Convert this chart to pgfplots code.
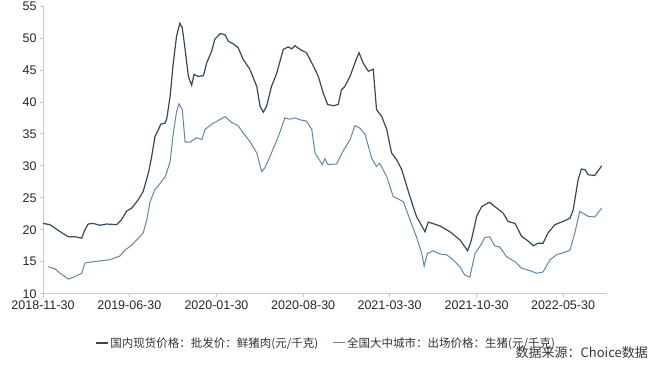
\documentclass[border=0pt]{standalone}
\usepackage{pgfplots}
\pgfplotsset{compat=1.18}
\usepackage{fontspec}
\setmainfont{Liberation Sans}
\newfontfamily\cjk{Noto Sans CJK SC}
\definecolor{topc}{HTML}{34495E}
\definecolor{botc}{HTML}{5E86AE}
\definecolor{axc}{HTML}{C8C8C8}
\begin{document}
\begin{tikzpicture}
\useasboundingbox (0,0) rectangle (650pt,368pt);
\begin{axis}[
  at={(43pt,74.3pt)}, anchor=south west,
  scale only axis, width=564pt, height=287.7pt,
  xmin=0, xmax=1385, ymin=10, ymax=55,
  axis x line=bottom, axis y line=left,
  axis line style={-, draw=axc, line width=0.8pt},
  tick align=outside, major tick length=3pt,
  tick style={draw=axc, line width=0.8pt},
  xtick={0,212,426,639,851,1065,1277},
  xticklabels={2018-11-30,2019-06-30,2020-01-30,2020-08-30,2021-03-30,2021-10-30,2022-05-30},
  ytick={10,15,...,55},
  /pgf/number format/assume math mode=true,
  tick label style={font=\fontsize{12.5}{14}\selectfont, text=black!85},
  xticklabel style={yshift=-1pt},
  legend columns=2,
  legend style={at={(0.502,-0.171)}, anchor=center, draw=none, fill=none,
    font=\cjk\fontsize{11.5}{13}\selectfont, text=black!80,
    /tikz/every even column/.append style={column sep=12pt}},
  legend image code/.code={\draw[#1] (0pt,0pt) -- (12pt,0pt);},
]
\addplot[topc, line width=1.2pt] coordinates {
(0,21.0)(17,20.8)(42,19.7)(62,18.9)(79,18.9)(95,18.7)(103,20.0)(111,20.9)(123,21.0)(140,20.7)(156,20.9)(181,20.8)(193,21.6)(205,22.9)(218,23.4)(234,24.7)(246,26.0)(259,28.9)(267,31.5)(275,34.6)(283,35.6)(289,36.5)(300,36.7)(304,37.4)(312,40.8)(320,46.1)(328,50.3)(336,52.3)(342,51.6)(349,48.2)(357,44.0)(365,42.6)(371,44.3)(381,44.0)(394,44.1)(402,46.1)(414,47.9)(422,49.8)(435,50.7)(447,50.5)(455,49.5)(467,49.1)(479,48.5)(492,46.6)(508,45.1)(525,42.4)(533,39.3)(541,38.4)(549,39.3)(561,42.4)(574,44.5)(590,48.2)(602,48.6)(611,48.3)(619,48.8)(631,48.2)(647,47.7)(664,45.6)(676,44.0)(688,41.4)(699,39.6)(713,39.4)(725,39.6)(733,41.9)(741,42.4)(754,44.0)(766,46.1)(776,47.7)(786,46.1)(799,44.8)(811,45.1)(819,38.8)(832,37.7)(844,35.7)(856,32.0)(868,31.0)(881,29.4)(901,25.2)(917,22.1)(938,19.7)(946,21.2)(966,20.8)(975,20.6)(999,19.7)(1024,18.4)(1043,16.7)(1052,18.4)(1065,22.1)(1077,23.6)(1096,24.3)(1114,23.4)(1130,22.6)(1142,21.3)(1159,21.0)(1175,19.0)(1192,18.2)(1204,17.5)(1216,17.9)(1228,17.9)(1240,19.5)(1257,20.8)(1277,21.3)(1294,21.8)(1302,23.1)(1314,27.8)(1322,29.5)(1331,29.4)(1339,28.6)(1355,28.5)(1372,30.0)
};
\addlegendentry{国内现货价格：批发价：鲜猪肉(元/千克)}
\addplot[botc, line width=1.0pt] coordinates {
(13,14.2)(29,13.9)(42,13.2)(62,12.3)(79,12.7)(95,13.2)(103,14.8)(123,15.0)(164,15.3)(189,15.9)(201,16.8)(218,17.6)(230,18.4)(246,19.5)(255,21.6)(263,24.4)(275,26.3)(287,27.2)(300,28.3)(312,30.6)(320,35.1)(328,38.5)(334,39.7)(342,38.8)(349,33.7)(361,33.7)(377,34.4)(390,34.1)(398,35.7)(414,36.5)(447,37.7)(463,36.8)(479,36.3)(492,35.1)(508,33.8)(525,32.0)(537,29.1)(545,29.7)(561,32.0)(578,34.6)(594,37.5)(606,37.3)(619,37.5)(631,37.2)(647,37.0)(660,35.7)(668,32.0)(676,31.2)(686,30.2)(692,31.1)(700,30.2)(721,30.3)(737,32.3)(754,34.1)(766,36.3)(778,35.9)(791,34.9)(807,31.2)(819,29.9)(827,30.4)(844,28.3)(860,25.2)(885,24.4)(901,21.6)(917,18.9)(930,16.3)(936,14.3)(944,16.3)(958,16.7)(975,16.2)(991,16.1)(1007,15.3)(1024,14.2)(1036,12.9)(1048,12.6)(1061,16.3)(1073,17.4)(1085,18.8)(1097,18.9)(1109,17.5)(1122,17.3)(1138,15.8)(1159,15.0)(1175,14.0)(1196,13.6)(1212,13.2)(1228,13.4)(1245,15.3)(1261,16.1)(1277,16.4)(1294,16.8)(1306,19.5)(1318,22.9)(1326,22.6)(1339,22.1)(1355,22.0)(1372,23.4)
};
\addlegendentry{全国大中城市：出场价格：生猪(元/千克)}
\end{axis}
\node[anchor=east, inner sep=0pt, font=\cjk\fontsize{13}{15}\selectfont, text=black!80] at (648pt,15pt) {数据来源：Choice数据};
\end{tikzpicture}
\end{document}
